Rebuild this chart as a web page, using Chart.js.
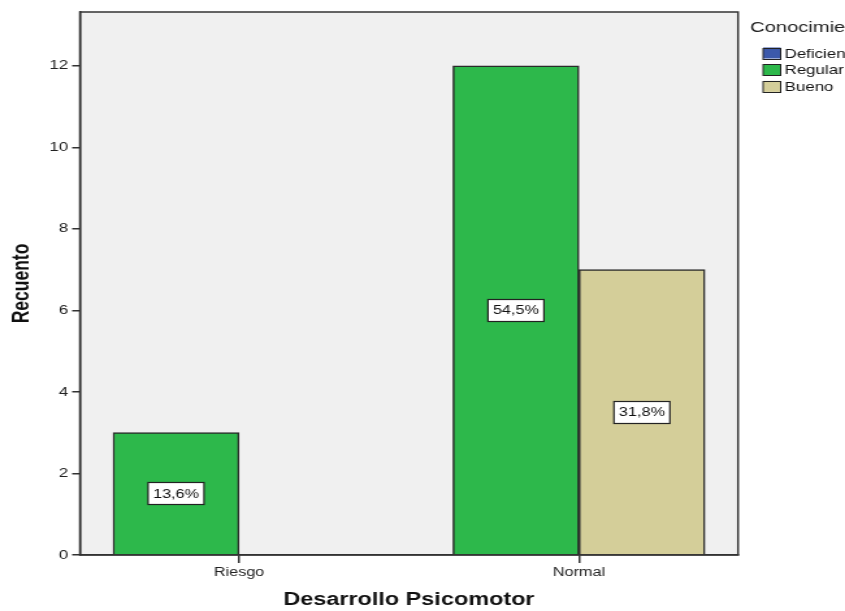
<!DOCTYPE html>
<html>
<head>
<meta charset="utf-8">
<script src="https://cdn.jsdelivr.net/npm/chart.js@4/dist/chart.umd.min.js"></script>
<style>
  html, body { margin: 0; padding: 0; background: #ffffff; overflow: hidden; }
  #page { width: 845px; height: 611px; overflow: hidden; position: relative; }
  /* the chart is drawn narrow and widened horizontally */
  #wrap { width: 650px; height: 611px; transform: scaleX(1.3); transform-origin: 0 0; }
</style>
</head>
<body>
<div id="page"><div id="wrap"><canvas id="chart" width="650" height="611"></canvas></div></div>
<script>
// Desarrollo Psicomotor by Conocimiento (counts)
const categories = ['Riesgo', 'Normal'];
const seriesNames = ['Deficiente', 'Regular', 'Bueno'];
const deficiente = [null, null];
const regular = [3, 12];
const bueno = [null, 7];
const yTicks = [0, 2, 4, 6, 8, 10, 12];
const totalCases = 22;

const colors = ['#3c59ab', '#2db84b', '#d4ce99'];

function toPoints(values) {
  return values.map((v, i) => ({ x: i + 1, y: v }));
}

const FONT = "'Liberation Sans', Arial, sans-serif";

// plot background and frame
const framePlugin = {
  id: 'frame',
  beforeDraw(chart) {
    const { ctx, chartArea: a } = chart;
    ctx.save();
    ctx.fillStyle = '#f0f0f0';
    ctx.fillRect(a.left, a.top, a.right - a.left, a.bottom - a.top);
    ctx.restore();
  },
  afterDraw(chart) {
    const { ctx, chartArea: a } = chart;
    ctx.save();
    ctx.strokeStyle = '#333333';
    ctx.lineWidth = 1.5;
    ctx.strokeRect(a.left, a.top, a.right - a.left, a.bottom - a.top);
    ctx.restore();
  }
};

// percentage labels in the middle of each bar
const pctPlugin = {
  id: 'pctLabels',
  afterDatasetsDraw(chart) {
    const { ctx } = chart;
    ctx.save();
    ctx.font = '12.5px ' + FONT;
    ctx.textAlign = 'center';
    ctx.textBaseline = 'middle';
    chart.data.datasets.forEach((ds, di) => {
      const meta = chart.getDatasetMeta(di);
      meta.data.forEach((bar, i) => {
        const v = ds.data[i].y;
        if (v === null || v === undefined || v === 0) return;
        const txt = (v / totalCases * 100).toFixed(1).replace('.', ',') + '%';
        const cx = bar.x;
        const cy = (bar.y + bar.base) / 2;
        const w = 43;
        const h = 22;
        ctx.fillStyle = '#ffffff';
        ctx.fillRect(cx - w / 2, cy - h / 2, w, h);
        ctx.strokeStyle = '#222222';
        ctx.lineWidth = 1.2;
        ctx.strokeRect(cx - w / 2, Math.round(cy - h / 2) + 0.5, w, h);
        ctx.fillStyle = '#111111';
        ctx.fillText(txt, cx, cy + 1);
      });
    });
    ctx.restore();
  }
};

// legend at the top right
const legendPlugin = {
  id: 'sideLegend',
  afterDraw(chart) {
    const { ctx } = chart;
    ctx.save();
    ctx.textBaseline = 'middle';
    ctx.textAlign = 'left';
    ctx.fillStyle = '#222222';
    ctx.font = '15.5px ' + FONT;
    ctx.fillText('Conocimiento', 577, 28);
    ctx.font = '13px ' + FONT;
    chart.data.datasets.forEach((ds, i) => {
      const y = 53 + i * 16.7;
      ctx.fillStyle = ds.backgroundColor;
      ctx.fillRect(587, y - 5.5, 13.5, 11);
      ctx.strokeStyle = '#222222';
      ctx.lineWidth = 1;
      ctx.strokeRect(587, Math.round(y - 5.5) + 0.5, 13.5, 11);
      ctx.fillStyle = '#111111';
      ctx.fillText(ds.label, 603.5, y + 1);
    });
    ctx.restore();
  }
};

const seriesValues = [deficiente, regular, bueno];
const datasets = seriesNames.map((name, i) => ({
  label: name,
  data: toPoints(seriesValues[i]),
  backgroundColor: colors[i],
  borderColor: '#2a2a2a',
  borderWidth: 1.5,
  borderSkipped: 'bottom',
  barThickness: 96.9,
  grouped: i !== 0
}));

new Chart(document.getElementById('chart'), {
  type: 'bar',
  data: { datasets },
  options: {
    responsive: false,
    animation: false,
    events: [],
    layout: { padding: { top: 12, right: 82.3, left: 0, bottom: 0 } },
    plugins: {
      legend: { display: false },
      tooltip: { enabled: false }
    },
    scales: {
      x: {
        type: 'linear',
        offset: false,
        min: 0.532,
        max: 2.468,
        afterFit(scale) { scale.height = 56; },
        border: { display: true, color: '#333333', width: 1.5 },
        grid: { display: true, offset: false, drawOnChartArea: false, drawTicks: true, tickLength: 8, color: '#333333', lineWidth: 1.5 },
        afterBuildTicks(scale) { scale.ticks = categories.map((c, i) => ({ value: i + 1 })); },
        ticks: {
          autoSkip: false,
          maxRotation: 0,
          padding: 2,
          color: '#222222',
          font: { family: FONT, size: 12.5 },
          callback: (v) => categories[v - 1] ?? ''
        },
        title: {
          display: true,
          text: 'Desarrollo Psicomotor',
          color: '#111111',
          font: { family: FONT, size: 18, weight: 'bold' },
          padding: { top: 2, bottom: 0 }
        }
      },
      y: {
        min: 0,
        max: 13.32,
        afterFit(scale) { scale.width = 61.5; },
        afterBuildTicks(scale) { scale.ticks = yTicks.map(v => ({ value: v })); },
        border: { display: true, color: '#333333', width: 1.5 },
        grid: { display: true, drawOnChartArea: false, drawTicks: true, tickLength: 6, color: '#333333', lineWidth: 1.5 },
        ticks: {
          padding: 3,
          color: '#222222',
          font: { family: FONT, size: 13 }
        },
        title: {
          display: true,
          text: 'Recuento',
          color: '#111111',
          font: { family: FONT, size: 17.5, weight: 'bold' },
          padding: { top: 6.5, bottom: 0 }
        }
      }
    }
  },
  plugins: [framePlugin, pctPlugin, legendPlugin]
});
</script>
</body>
</html>
